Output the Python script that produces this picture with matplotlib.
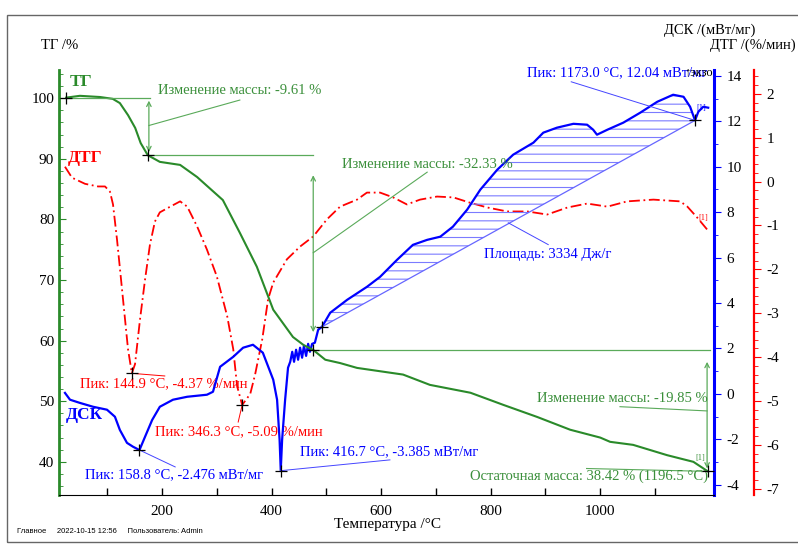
import matplotlib
matplotlib.use("Agg")
import numpy as np
import matplotlib.pyplot as plt
from matplotlib.patches import Rectangle
from matplotlib.ticker import MultipleLocator, FixedLocator

plt.rcParams['font.family'] = ['Liberation Serif', 'DejaVu Serif']
plt.rcParams['axes.unicode_minus'] = False

# ТГ, %
t_tg = [25, 50, 87, 110, 123, 138, 151, 161, 174, 196, 233, 264, 311, 342, 373, 403,
        439, 458, 476, 498, 525, 556, 640, 689, 763, 823, 885, 945, 1000, 1018, 1060, 1122,
        1170, 1196.5]
tg = [100.1, 100.4, 100.2, 99.9, 99.2, 97.2, 95.1, 92.6, 90.6, 89.5, 89.0, 87.0, 83.2,
      77.8, 72.2, 65.1, 60.6, 59.3, 58.46, 56.85, 56.3, 55.5, 54.4, 52.7, 51.4, 49.4, 47.4,
      45.3, 44.0, 43.3, 42.8, 41.1, 40.0, 38.42]

# ДТГ, %/мин
t_dtg = [22.8, 35.6, 59.4, 83.1, 95.9, 105, 110.5, 117.8, 123.3, 130.6, 137.9, 144.9,
         150.7, 159.8, 169, 178, 187, 196, 215, 233, 246, 264, 282, 300, 319, 330, 337,
         346.3, 361, 370, 383, 393.6, 403, 428, 452, 476, 501, 525, 556, 574, 598, 622,
         647, 671, 702, 732, 762, 794, 830, 867, 903, 940, 976, 1013, 1049, 1097, 1146,
         1159, 1177, 1195]
dtg = [0.34, 0.09, -0.05, -0.11, -0.11, -0.23, -0.52, -1.32, -2.0, -2.91, -3.82, -4.37,
       -4.16, -3.14, -2.23, -1.43, -0.91, -0.70, -0.57, -0.45, -0.57, -1.02, -1.55, -2.16,
       -3.07, -3.82, -4.66, -5.09, -4.84, -4.39, -3.59, -2.68, -2.30, -1.77, -1.48, -1.25,
       -0.86, -0.57, -0.41, -0.25, -0.25, -0.36, -0.52, -0.41, -0.34, -0.36, -0.48, -0.59,
       -0.68, -0.68, -0.75, -0.59, -0.50, -0.57, -0.45, -0.41, -0.45, -0.57, -0.82, -1.09]

# ДСК, мВт/мг
t_dsc = [22.8, 32, 50, 74, 99.5, 114, 123, 136, 147, 158.8, 169, 182, 196, 220, 246, 282,
         293, 306, 330, 348, 366, 384, 403, 410, 414.6, 416.7, 419.2, 424.7, 430, 434,
         437.7, 441, 444.7, 448.4, 452, 455.7, 459, 463, 466.7, 470, 474, 479, 485, 492,
         507, 538, 574, 598, 629, 658, 684, 708, 731, 757, 781, 812, 841, 878, 896, 921,
         951, 976, 987, 994, 1013, 1042, 1073, 1104, 1133, 1152, 1164, 1173, 1179, 1188,
         1197]
dsc = [0.04, -0.26, -0.40, -0.57, -0.70, -1.01, -1.59, -2.16, -2.33, -2.476, -1.89, -1.15,
       -0.57, -0.26, -0.13, -0.04, 0.09, 1.19, 1.63, 2.03, 2.16, 1.81, 0.62, -0.26, -2.03,
       -3.385, -2.03, -0.26, 1.15, 1.41, 1.85, 1.41, 1.94, 1.50, 2.03, 1.59, 2.11, 1.67,
       2.20, 1.85, 2.20, 2.25, 2.82, 2.95, 3.57, 4.14, 4.71, 5.15, 5.90, 6.56, 6.78, 6.92,
       7.36, 8.11, 8.99, 9.87, 10.53, 11.06, 11.50, 11.72, 11.89, 11.85, 11.63, 11.41,
       11.63, 11.94, 12.38, 12.86, 13.17, 13.08, 12.64, 12.04, 12.42, 12.64, 12.60]

# отмеченные точки
tg_marks = [(25, 100.1), (174, 90.6), (476, 58.46), (1196.5, 38.42)]
dtg_peaks = [(144.9, -4.37), (346.3, -5.09)]
dsc_peaks = [(158.8, -2.476), (416.7, -3.385), (1173.0, 12.04)]
area_start = (492, 2.95)

x_labels = [200, 400, 600, 800, 1000]
x_minor = [100, 300, 500, 700, 900, 1100]

green = '#2a8a2a'
lgreen = '#5aaa5a'
tgreen = '#3a8f3a'

fig = plt.figure(figsize=(7.98, 5.45), dpi=100)
fig.patches.append(Rectangle((0.009, 0.005), 1.2, 0.967, transform=fig.transFigure,
                             fill=False, edgecolor='#666666', lw=1.0))

ax = fig.add_axes([0.074, 0.092, 0.821, 0.780])
ax2 = ax.twinx()
ax3 = ax.twinx()
ax.set_zorder(3)
ax.patch.set_visible(False)
ax2.set_zorder(2)
ax3.set_zorder(1)

ax.set_xlim(12, 1208)
ax.set_ylim(34.55, 104.7)
ax2.set_ylim(-4.45, 14.27)
ax3.set_ylim(-7.14, 2.55)

# оси
for s in ['top', 'right']:
    ax.spines[s].set_visible(False)
ax.spines['left'].set_color(green)
ax.spines['left'].set_linewidth(2)
for a in (ax2, ax3):
    for s in ['top', 'left', 'bottom']:
        a.spines[s].set_visible(False)
ax2.spines['right'].set_color('blue')
ax2.spines['right'].set_linewidth(2.2)
ax3.spines['right'].set_color('red')
ax3.spines['right'].set_linewidth(1.6)
ax3.spines['right'].set_position(('axes', 1.061))

ax.xaxis.set_major_locator(FixedLocator(x_labels))
ax.xaxis.set_minor_locator(FixedLocator(x_minor))
ax.tick_params(axis='x', which='both', direction='in', length=5, width=1, labelsize=11, pad=7)
ax.yaxis.set_major_locator(MultipleLocator(10))
ax.yaxis.set_minor_locator(MultipleLocator(2))
ax.tick_params(axis='y', which='major', direction='in', length=5, color=green, labelsize=11)
ax.tick_params(axis='y', which='minor', direction='in', length=3, color=green)

ax2.yaxis.set_major_locator(MultipleLocator(2))
ax2.yaxis.set_minor_locator(MultipleLocator(1))
ax2.tick_params(axis='y', which='major', length=5, color='blue', labelsize=11, pad=4)
ax2.tick_params(axis='y', which='minor', length=3, color='blue')

ax3.yaxis.set_major_locator(MultipleLocator(1))
ax3.yaxis.set_minor_locator(MultipleLocator(0.2))
ax3.tick_params(axis='y', which='major', length=5, color='red', labelsize=11, pad=4)
ax3.tick_params(axis='y', which='minor', length=3, color='red')

# кривые
ax.plot(t_tg, tg, color=green, lw=1.5)
ax3.plot(t_dtg, dtg, color='red', lw=1.3, linestyle=(0, (6, 2, 1, 2)))
ax2.plot(t_dsc, dsc, color='blue', lw=1.6)

# площадь пика ДСК
td = np.array(t_dsc)
dd = np.array(dsc)
m = (td >= area_start[0]) & (td <= dsc_peaks[2][0])
base = np.interp(td[m], [area_start[0], dsc_peaks[2][0]], [area_start[1], dsc_peaks[2][1]])
plt.rcParams['hatch.linewidth'] = 0.8
ax2.fill_between(td[m], base, dd[m], facecolor='none', edgecolor='#7b7bff', hatch='--', lw=0)
ax2.plot([area_start[0], dsc_peaks[2][0]], [area_start[1], dsc_peaks[2][1]],
         color='#6666ff', lw=0.9)

# маркеры
mk = dict(marker='+', color='black', ms=9, mew=0.9, ls='none', zorder=5)
ax.plot(*zip(*tg_marks), **mk)
ax3.plot(*zip(*dtg_peaks), **mk)
ax2.plot(*zip(*dsc_peaks), **mk)
ax2.plot(*area_start, **mk)

fs = 10.5
arr = dict(arrowstyle='<->', color=lgreen, lw=0.9, mutation_scale=8, shrinkA=0, shrinkB=0)

# ТГ: изменение массы 1
ax.plot([tg_marks[0][0], 178], [tg_marks[0][1]] * 2, color=lgreen, lw=0.9)
ax.plot([tg_marks[1][0], 476], [tg_marks[1][1]] * 2, color=lgreen, lw=0.9)
ax.annotate('', xy=(176, 99.6), xytext=(176, 91.1), arrowprops=arr)
ax.plot([176, 342], [95.5, 99.7], color=lgreen, lw=0.8)
ax.text(193, 101.2, 'Изменение массы: -9.61 %', color=tgreen, fontsize=fs, va='center')

# ТГ: изменение массы 2
ax.plot([tg_marks[2][0], 1200], [tg_marks[2][1]] * 2, color=lgreen, lw=0.9)
ax.annotate('', xy=(476, 87.3), xytext=(476, 61.4), arrowprops=arr)
ax.plot([476, 684], [74.5, 87.8], color=lgreen, lw=0.8)
ax.text(684, 89.1, 'Изменение массы: -32.33 %', color=tgreen, fontsize=fs,
        va='center', ha='center')

# ТГ: изменение массы 3
ax.annotate('', xy=(1195, 56.5), xytext=(1195, 38.9), arrowprops=arr)
ax.plot([1036, 1195], [49.1, 48.4], color=lgreen, lw=0.8)
ax.text(1197, 50.4, 'Изменение массы: -19.85 %', color=tgreen, fontsize=fs,
        va='center', ha='right')
ax.plot([975, tg_marks[3][0]], [38.9, tg_marks[3][1]], color=lgreen, lw=0.8)
ax.text(1197, 37.6, 'Остаточная масса: 38.42 % (1196.5 °C)', color=tgreen, fontsize=fs,
        va='center', ha='right')
ax.text(1183, 40.6, '[1]', color=tgreen, fontsize=6, ha='center', va='center')

# ДТГ пики
ax3.plot([dtg_peaks[0][0], 205], [dtg_peaks[0][1], -4.43], color='red', lw=0.7)
ax3.text(50, -4.61, 'Пик: 144.9 °C, -4.37 %/мин', color='red', fontsize=fs, va='center')
ax3.plot([dtg_peaks[1][0], 339], [dtg_peaks[1][1], -5.48], color='red', lw=0.7)
ax3.text(187, -5.70, 'Пик: 346.3 °C, -5.09 %/мин', color='red', fontsize=fs, va='center')
ax3.text(1188, -0.82, '[1]', color='red', fontsize=6, ha='center', va='center')

# ДСК пики
ax2.plot([dsc_peaks[0][0], 224], [dsc_peaks[0][1], -3.22], color='#4444ff', lw=0.7)
ax2.text(59, -3.57, 'Пик: 158.8 °C, -2.476 мВт/мг', color='blue', fontsize=fs, va='center')
ax2.plot([dsc_peaks[1][0], 616], [dsc_peaks[1][1], -2.91], color='#4444ff', lw=0.7)
ax2.text(452, -2.56, 'Пик: 416.7 °C, -3.385 мВт/мг', color='blue', fontsize=fs, va='center')
ax2.plot([947, dsc_peaks[2][0]], [13.74, dsc_peaks[2][1]], color='#4444ff', lw=0.7)
ax2.text(867, 14.14, 'Пик: 1173.0 °C, 12.04 мВт/мг', color='blue', fontsize=fs, va='center')
ax2.text(1206, 14.14, '↑экзо', color='black', fontsize=9, va='center', ha='right')
ax2.plot([905, 832], [6.57, 7.53], color='#4444ff', lw=0.7)
ax2.text(905, 6.12, 'Площадь: 3334 Дж/г', color='blue', fontsize=fs, va='center', ha='center')
ax2.text(1185, 12.6, '[1]', color='blue', fontsize=6, ha='center', va='center')

# подписи кривых
ax.text(32, 102.7, 'ТГ', color=green, fontsize=12.5, fontweight='bold', va='center')
ax.text(28, 90.1, 'ДТГ', color='red', fontsize=12.5, fontweight='bold', va='center')
ax.text(25, 47.8, 'ДСК', color='blue', fontsize=12.5, fontweight='bold', va='center')

# подписи осей
fig.text(0.075, 0.917, 'ТГ /%', fontsize=10.5, ha='center', va='center')
fig.text(0.946, 0.945, 'ДСК /(мВт/мг)', fontsize=10.5, ha='right', va='center')
fig.text(0.997, 0.917, 'ДТГ /(%/мин)', fontsize=10.5, ha='right', va='center')
fig.text(0.485, 0.037, 'Температура /°C', fontsize=11, ha='center', va='center')
fig.text(0.021, 0.024, 'Главное     2022-10-15 12:56     Пользователь: Admin',
         fontsize=5.5, family=['Liberation Sans', 'DejaVu Sans'], va='center')

fig.savefig('out.png', dpi=100)
